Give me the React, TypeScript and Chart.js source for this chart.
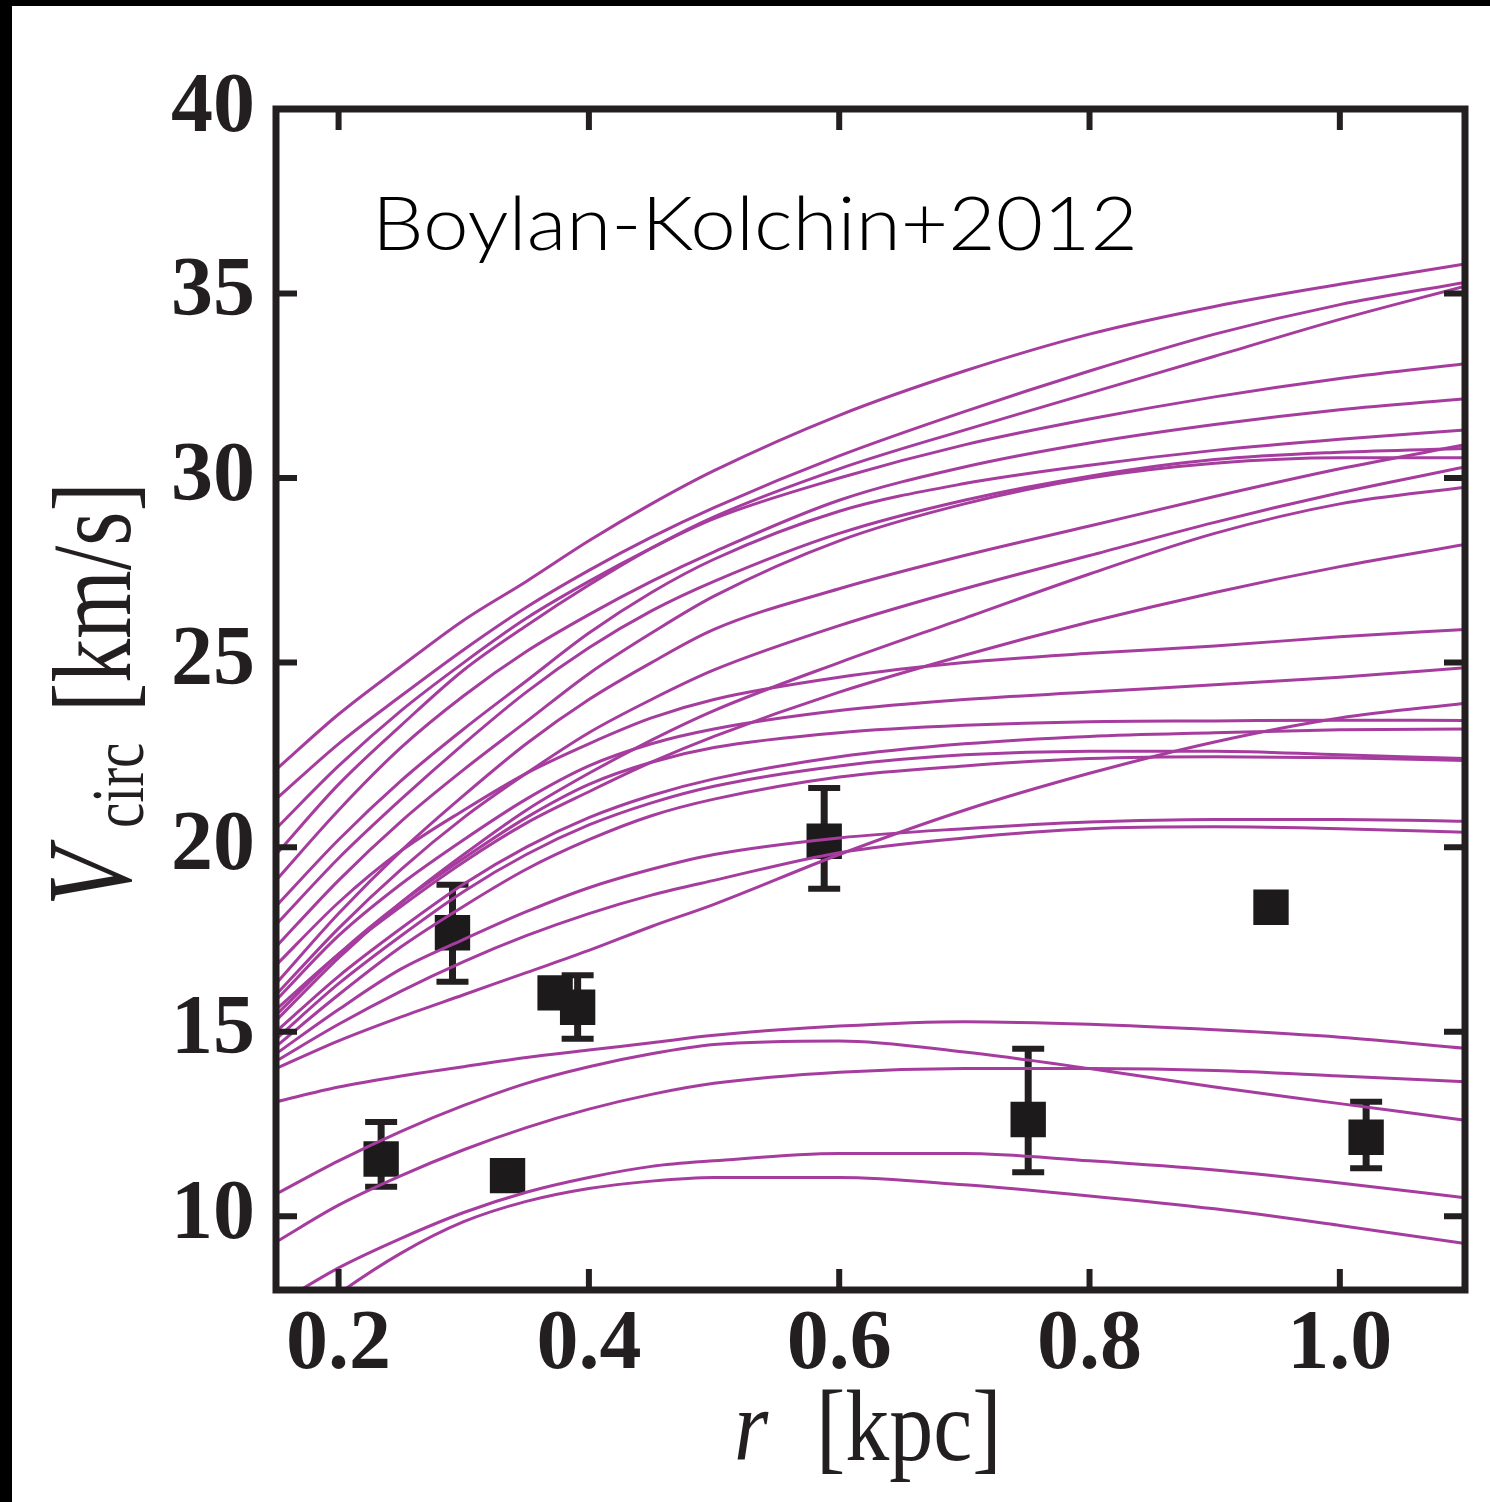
import React, { useEffect, useRef } from 'react';
import { Chart, registerables } from 'chart.js';

Chart.register(...registerables);

// radius grid (kpc) at which each simulated curve is read off
const R_GRID = [0.15, 0.2, 0.25, 0.3, 0.35, 0.4, 0.45, 0.5, 0.6, 0.7, 0.8, 0.9, 1.0, 1.1];

// simulated subhalo rotation curves, V_circ (km/s) at R_GRID
const CURVE_A = [22.1, 23.6, 24.9, 26.15, 27.2, 28.3, 29.3, 30.2, 31.7, 32.9, 33.9, 34.65, 35.25, 35.8];
const CURVE_B = [21.3, 22.8, 24.1, 25.35, 26.5, 27.5, 28.4, 29.2, 30.6, 31.8, 32.9, 33.9, 34.7, 35.3];
const CURVE_C = [19.8, 21.7, 23.3, 24.8, 26.0, 27.1, 28.1, 28.95, 30.25, 31.3, 32.3, 33.3, 34.3, 35.2];
const CURVE_D = [20.5, 22.2, 23.7, 25.0, 26.2, 27.2, 28.1, 28.9, 30.0, 30.9, 31.6, 32.2, 32.7, 33.1];
const CURVE_E = [19.1, 21.0, 22.7, 24.1, 25.3, 26.3, 27.2, 28.0, 29.4, 30.3, 30.95, 31.45, 31.85, 32.15];
const CURVE_F = [18.4, 20.2, 21.8, 23.2, 24.5, 25.8, 26.9, 27.8, 29.1, 29.85, 30.35, 30.75, 31.05, 31.3];
const CURVE_G = [17.9, 19.7, 21.3, 22.8, 24.2, 25.4, 26.4, 27.2, 28.5, 29.4, 30.05, 30.5, 30.7, 30.8];
const CURVE_G2 = [17.3, 19.1, 20.7, 22.1, 23.4, 24.7, 25.8, 26.8, 28.3, 29.3, 30.0, 30.4, 30.55, 30.55];
const CURVE_H = [16.3, 18.2, 19.9, 21.4, 22.8, 24.0, 25.0, 25.9, 27.0, 27.9, 28.7, 29.5, 30.25, 30.9];
const CURVE_I = [16.0, 17.8, 19.4, 20.8, 22.0, 23.1, 24.0, 24.8, 26.0, 27.0, 27.9, 28.8, 29.6, 30.3];
const CURVE_I2 = [15.3, 17.0, 18.5, 19.8, 21.0, 22.0, 22.9, 23.7, 25.0, 26.2, 27.4, 28.5, 29.3, 29.75];
const CURVE_J = [15.6, 17.1, 18.4, 19.6, 20.65, 21.5, 22.3, 23.0, 24.2, 25.2, 26.1, 26.9, 27.6, 28.2];
const CURVE_K = [16.8, 18.5, 19.9, 21.0, 22.0, 22.8, 23.5, 24.0, 24.6, 25.0, 25.25, 25.45, 25.7, 25.9];
const CURVE_L = [15.85, 17.6, 19.0, 20.2, 21.3, 22.2, 22.8, 23.2, 23.7, 24.0, 24.2, 24.4, 24.6, 24.86];
const CURVE_M = [15.45, 17.1, 18.5, 19.7, 20.8, 21.7, 22.3, 22.7, 23.1, 23.3, 23.4, 23.42, 23.44, 23.43];
const CURVE_N2 = [15.0, 16.5, 17.8, 19.0, 20.0, 20.8, 21.4, 21.85, 22.45, 22.8, 23.0, 23.1, 23.18, 23.2];
const CURVE_O = [14.8, 16.3, 17.6, 18.8, 19.8, 20.6, 21.2, 21.65, 22.2, 22.5, 22.6, 22.6, 22.5, 22.4];
const CURVE_O2 = [14.6, 16.0, 17.3, 18.4, 19.4, 20.2, 20.85, 21.3, 21.9, 22.2, 22.4, 22.45, 22.42, 22.35];
const CURVE_N = [14.0, 14.75, 15.4, 16.0, 16.6, 17.2, 17.85, 18.45, 19.8, 21.0, 22.0, 22.85, 23.5, 23.9];
const CURVE_P = [14.4, 15.6, 16.7, 17.5, 18.25, 18.9, 19.4, 19.8, 20.25, 20.5, 20.68, 20.75, 20.75, 20.7];
const CURVE_Q = [14.2, 15.2, 16.1, 16.9, 17.6, 18.2, 18.7, 19.1, 19.85, 20.25, 20.5, 20.55, 20.5, 20.4];
const CURVE_L1 = [13.1, 13.5, 13.8, 14.05, 14.3, 14.5, 14.7, 14.9, 15.15, 15.27, 15.2, 15.05, 14.85, 14.55];
const CURVE_L3 = [10.6, 11.5, 12.3, 13.0, 13.6, 14.05, 14.4, 14.65, 14.75, 14.45, 14.0, 13.5, 13.05, 12.6];
const CURVE_L2 = [9.3, 10.3, 11.1, 11.8, 12.4, 12.9, 13.3, 13.6, 13.9, 14.0, 14.0, 13.95, 13.8, 13.64];
const CURVE_L4 = [7.6, 8.6, 9.4, 10.1, 10.65, 11.05, 11.35, 11.5, 11.7, 11.7, 11.5, 11.25, 10.9, 10.5];
const CURVE_L5 = [6.6, 7.9, 9.0, 9.85, 10.4, 10.75, 10.95, 11.05, 11.05, 10.85, 10.55, 10.2, 9.75, 9.26];

const CURVES = [
  CURVE_A, CURVE_B, CURVE_C, CURVE_D, CURVE_E, CURVE_F, CURVE_G, CURVE_G2, CURVE_H,
  CURVE_I, CURVE_I2, CURVE_J, CURVE_K, CURVE_L, CURVE_M, CURVE_N2, CURVE_O, CURVE_O2,
  CURVE_N, CURVE_P, CURVE_Q, CURVE_L1, CURVE_L3, CURVE_L2, CURVE_L4, CURVE_L5,
];

// observed dwarf spheroidals
const OBS_R = [0.234, 0.291, 0.335, 0.373, 0.391, 0.588, 0.751, 0.945, 1.021];
const OBS_V = [11.55, 17.68, 11.1, 16.05, 15.66, 20.16, 12.62, 18.37, 12.14];
const OBS_LO = [10.8, 16.35, 10.75, 16.05, 14.81, 18.87, 11.19, 18.37, 11.3];
const OBS_HI = [12.55, 18.98, 11.45, 16.05, 16.53, 21.6, 14.54, 18.37, 13.1];

const X_TICKS = [0.2, 0.4, 0.6, 0.8, 1.0];
const Y_TICKS = [10, 15, 20, 25, 30, 35, 40];

const INK = '#231f20';
const MAGENTA = '#a63c9e';

const decorPlugin = {
  id: 'decor',
  beforeDraw(chart: any) {
    const { ctx, width, height } = chart;
    ctx.save();
    ctx.fillStyle = '#ffffff';
    ctx.fillRect(0, 0, width, height);
    ctx.restore();
  },
  beforeDatasetsDraw(chart: any) {
    const { ctx, scales } = chart;
    const xs = scales.x;
    const ys = scales.y;
    ctx.save();
    ctx.strokeStyle = INK;
    ctx.lineCap = 'butt';
    for (let i = 0; i < OBS_R.length; i++) {
      if (OBS_HI[i] <= OBS_LO[i]) continue;
      const x = xs.getPixelForValue(OBS_R[i]);
      const yl = ys.getPixelForValue(OBS_LO[i]);
      const yh = ys.getPixelForValue(OBS_HI[i]);
      ctx.lineWidth = 7;
      ctx.beginPath();
      ctx.moveTo(x, yl);
      ctx.lineTo(x, yh);
      ctx.stroke();
      ctx.lineWidth = 6;
      ctx.beginPath();
      ctx.moveTo(x - 16, yl);
      ctx.lineTo(x + 16, yl);
      ctx.moveTo(x - 16, yh);
      ctx.lineTo(x + 16, yh);
      ctx.stroke();
    }
    ctx.restore();
  },
  afterDatasetsDraw(chart: any) {
    const { ctx, chartArea: a, scales } = chart;
    ctx.save();
    ctx.strokeStyle = INK;
    ctx.lineWidth = 7;
    ctx.strokeRect(a.left, a.top, a.right - a.left, a.bottom - a.top);
    ctx.lineWidth = 6;
    ctx.beginPath();
    X_TICKS.forEach((v) => {
      const x = scales.x.getPixelForValue(v);
      ctx.moveTo(x, a.bottom);
      ctx.lineTo(x, a.bottom - 21);
      ctx.moveTo(x, a.top);
      ctx.lineTo(x, a.top + 21);
    });
    Y_TICKS.forEach((v) => {
      const y = scales.y.getPixelForValue(v);
      ctx.moveTo(a.left, y);
      ctx.lineTo(a.left + 21, y);
      ctx.moveTo(a.right, y);
      ctx.lineTo(a.right - 21, y);
    });
    ctx.stroke();
    ctx.restore();
  },
  afterDraw(chart: any) {
    const { ctx, width, height } = chart;
    ctx.save();
    ctx.fillStyle = INK;
    ctx.textBaseline = 'alphabetic';
    ctx.textAlign = 'left';

    // x-axis title: r [kpc]
    ctx.save();
    ctx.translate(0, 1460);
    ctx.scale(1, 1.15);
    ctx.font = 'italic 88px "Liberation Serif"';
    ctx.fillText('r', 734, 0);
    ctx.font = '88px "Liberation Serif"';
    ctx.fillText('[kpc]', 816, 0);
    ctx.restore();

    // y-axis title: V_circ [km/s]
    ctx.save();
    ctx.translate(130, 906);
    ctx.rotate(-Math.PI / 2);
    ctx.scale(1, 1.28);
    ctx.font = 'italic 94px "Liberation Serif"';
    ctx.fillText('V', 0, 0);
    ctx.font = '57px "Liberation Serif"';
    ctx.fillText('circ', 78, 10);
    ctx.font = '88px "Liberation Serif"';
    ctx.fillText('[km/s]', 194, 0);
    ctx.restore();

    // annotation
    ctx.save();
    ctx.fillStyle = '#000000';
    ctx.font = '300 74px Lato, "Liberation Sans"';
    const label = 'Boylan-Kolchin+2012';
    const w = ctx.measureText(label).width;
    ctx.translate(372, 250);
    ctx.scale(766 / w, 1);
    ctx.fillText(label, 0, 0);
    ctx.restore();

    // dark frame of the screenshot
    ctx.fillStyle = '#000000';
    ctx.fillRect(0, 0, width, 6);
    ctx.fillRect(0, 0, 12, height);
    ctx.restore();
  },
};

export default function App() {
  const ref = useRef<HTMLCanvasElement | null>(null);

  useEffect(() => {
    if (!ref.current) return;
    const lineSets = CURVES.map((c) => ({
      type: 'line' as const,
      data: R_GRID.map((r, i) => ({ x: r, y: c[i] })),
      borderColor: MAGENTA,
      borderWidth: 3,
      pointRadius: 0,
      fill: false,
      cubicInterpolationMode: 'monotone' as const,
      order: 0,
    }));
    const obsSet = {
      type: 'scatter' as const,
      data: OBS_R.map((r, i) => ({ x: r, y: OBS_V[i] })),
      pointStyle: 'rect',
      pointRadius: 25,
      pointBackgroundColor: '#1c1a1b',
      pointBorderWidth: 0,
      order: 10,
    };
    const chart = new Chart(ref.current, {
      type: 'line',
      data: { datasets: [...lineSets, obsSet] as any },
      options: {
        responsive: false,
        animation: false,
        events: [],
        layout: { padding: { top: 109, right: 17, left: 0, bottom: 0 } },
        plugins: { legend: { display: false }, tooltip: { enabled: false } },
        scales: {
          x: {
            type: 'linear',
            min: 0.15,
            max: 1.1,
            afterBuildTicks: (s: any) => {
              s.ticks = X_TICKS.map((v) => ({ value: v }));
            },
            afterFit: (s: any) => {
              s.height = 212;
            },
            ticks: {
              callback: (v: any) => Number(v).toFixed(1),
              font: { family: '"Liberation Serif"', weight: 'bold', size: 84 },
              color: INK,
              padding: 6,
              maxRotation: 0,
              autoSkip: false,
            },
            grid: { display: false, drawTicks: false },
            border: { display: false },
          },
          y: {
            type: 'linear',
            min: 8,
            max: 40,
            afterBuildTicks: (s: any) => {
              s.ticks = Y_TICKS.map((v) => ({ value: v }));
            },
            afterFit: (s: any) => {
              s.width = 276;
            },
            ticks: {
              callback: (v: any) => String(v),
              font: { family: '"Liberation Serif"', weight: 'bold', size: 84 },
              color: INK,
              padding: 21,
              autoSkip: false,
            },
            grid: { display: false, drawTicks: false },
            border: { display: false },
          },
        },
      } as any,
      plugins: [decorPlugin],
    });
    return () => chart.destroy();
  }, []);

  return (
    <div style={{ position: 'fixed', left: 0, top: 0, width: 1490, height: 1502, background: '#fff' }}>
      <canvas ref={ref} width={1490} height={1502} style={{ display: 'block' }} />
    </div>
  );
}
